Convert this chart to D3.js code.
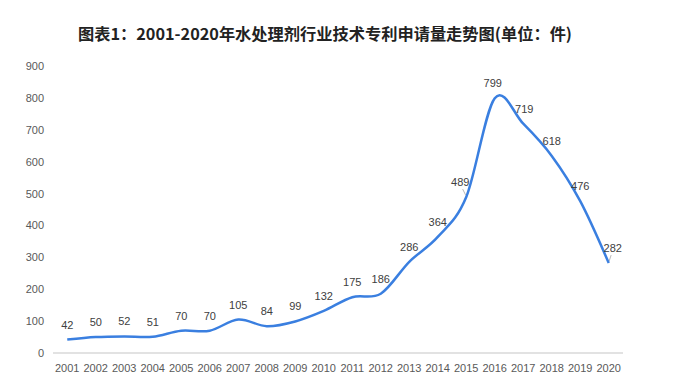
<!DOCTYPE html>
<html>
<head>
<meta charset="utf-8">
<script src="https://cdn.jsdelivr.net/npm/d3@7"></script>
<style>
  body { margin: 0; background: #fff; }
  svg { display: block; font-family: "Liberation Sans", "Noto Sans CJK SC", sans-serif; }
</style>
</head>
<body>
<div id="chart"></div>
<script>
const years = ['2001','2002','2003','2004','2005','2006','2007','2008','2009','2010',
               '2011','2012','2013','2014','2015','2016','2017','2018','2019','2020'];
const patents = [42, 50, 52, 51, 70, 70, 105, 84, 99, 132, 175, 186, 286, 364, 489, 799, 719, 618, 476, 282];
const yTicks = [0, 100, 200, 300, 400, 500, 600, 700, 800, 900];

const width = 677, height = 389;
const svg = d3.select('#chart').append('svg')
    .attr('width', width)
    .attr('height', height);

svg.append('text')
    .attr('x', 78)
    .attr('y', 40)
    .attr('textLength', 494)
    .attr('lengthAdjust', 'spacingAndGlyphs')
    .style('font-family', '"Noto Sans CJK SC", sans-serif')
    .style('font-size', '16px')
    .style('font-weight', 'bold')
    .attr('fill', '#222')
    .text('图表1：2001-2020年水处理剂行业技术专利申请量走势图(单位：件)');

const x = d3.scalePoint().domain(years).range([53, 623]).padding(0.5);
const y = d3.scaleLinear().domain([0, 900]).range([353, 66]);

// baseline
svg.append('line')
    .attr('x1', 53).attr('x2', 623)
    .attr('y1', y(0)).attr('y2', y(0))
    .attr('stroke', '#d9d9d9').attr('stroke-width', 1.5);

// y labels
svg.append('g').selectAll('text')
    .data(yTicks)
    .join('text')
    .attr('x', 44)
    .attr('y', d => y(d) + 4)
    .attr('text-anchor', 'end')
    .style('font-size', '11px')
    .attr('fill', '#595959')
    .text(d => d);

// x labels
svg.append('g').selectAll('text')
    .data(years)
    .join('text')
    .attr('x', d => x(d))
    .attr('y', 372)
    .attr('text-anchor', 'middle')
    .style('font-size', '11px')
    .attr('fill', '#595959')
    .text(d => d);

const line = d3.line()
    .x((d, i) => x(years[i]))
    .y(d => y(d))
    .curve(d3.curveCatmullRom.alpha(0));

svg.append('path')
    .datum(patents)
    .attr('d', line)
    .attr('fill', 'none')
    .attr('stroke', '#3a7fe0')
    .attr('stroke-width', 2.5);

// value labels; 489 and 476 sit off to the side with a small leader line
const nudge = { 14: [-6, 0], 15: [-2, 0], 16: [1, 0], 19: [4, 0] };
const leaders = [14, 19];
const labels = svg.append('g');
patents.forEach((v, i) => {
  const dxy = nudge[i] || [0, 0];
  const px = x(years[i]), py = y(v);
  labels.append('text')
      .attr('x', px + dxy[0])
      .attr('y', py - 11 + dxy[1])
      .attr('text-anchor', 'middle')
      .style('font-size', '11px')
      .attr('fill', '#404040')
      .text(v);
  if (leaders.includes(i)) {
    labels.append('line')
        .attr('x1', px + dxy[0] * 0.6).attr('y1', py - 8)
        .attr('x2', px + dxy[0] * 0.1).attr('y2', py - 2)
        .attr('stroke', '#a6a6a6').attr('stroke-width', 0.8);
  }
});
</script>
</body>
</html>
